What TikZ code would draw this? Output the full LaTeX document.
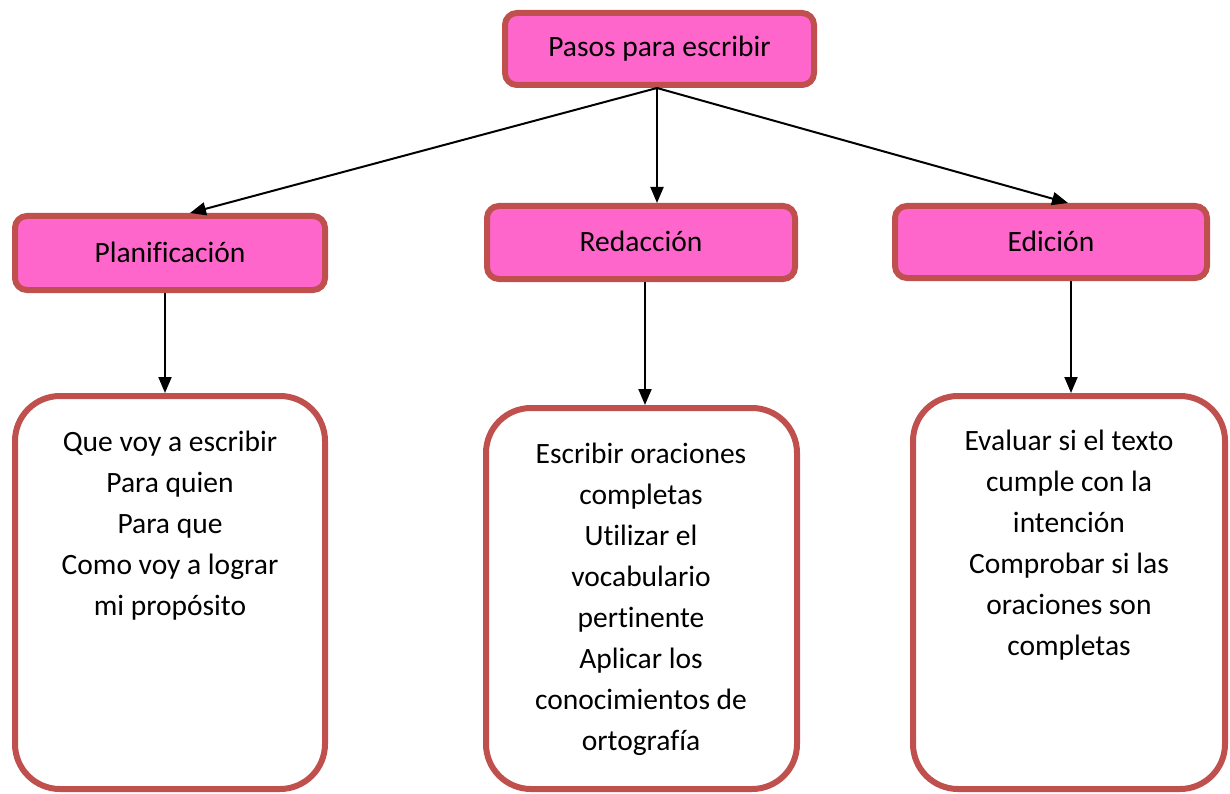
\documentclass[tikz,border=0pt]{standalone}
\usepackage{fontspec}
\setmainfont{Carlito}[Ligatures={NoCommon,NoRequired,NoContextual}]
\usetikzlibrary{arrows.meta}
\definecolor{boxpink}{HTML}{FF66CC}
\definecolor{boxred}{HTML}{C0504D}
\tikzset{
  headbox/.style={draw=boxred, fill=boxpink, line width=6pt, rounded corners=12pt,
    inner sep=0pt, font=\fontsize{29.5}{41}\selectfont},
  bodybox/.style={draw=boxred, fill=white, line width=6pt, rounded corners=45pt, inner sep=0pt},
  bodytext/.style={align=center, anchor=north, inner sep=0pt, font=\fontsize{29.5}{41}\selectfont},
  conn/.style={line width=2pt, -{Triangle[length=16pt,width=13pt]}}
}
\begin{document}
\begin{tikzpicture}[x=1pt,y=-1pt]
\useasboundingbox (0,0) rectangle (1230,794);
% header boxes
\node[headbox, minimum width=309pt, minimum height=72pt] (top) at (659.5,49) {Pasos para escribir};
\node[headbox, minimum width=310pt, minimum height=74pt] (plan) at (170,253) {\raisebox{2pt}{Planificación}};
\node[headbox, minimum width=308pt, minimum height=73pt] (reda) at (641,242.5) {\raisebox{2pt}{Redacción}};
\node[headbox, minimum width=312pt, minimum height=72pt] (edic) at (1051,242) {\raisebox{2pt}{Edición}};
% body boxes
\node[bodybox, minimum width=310pt, minimum height=393pt] (b1) at (170,592.5) {};
\node[bodybox, minimum width=311pt, minimum height=381pt] (b2) at (641.5,598.5) {};
\node[bodybox, minimum width=312pt, minimum height=393pt] (b3) at (1069,592.5) {};
% body texts
\node[bodytext] (t1) at (170,431) {Que voy a escribir\\Para quien\\Para que\\Como voy a lograr\\mi propósito};
\node[bodytext] (t2) at (641,443) {Escribir oraciones\\completas\\Utilizar el\\vocabulario\\pertinente\\Aplicar los\\conocimientos de\\ortografía};
\node[bodytext] (t3) at (1069,430) {Evaluar si el texto\\cumple con la\\intención\\Comprobar si las\\oraciones son\\completas};
% connectors
\coordinate (src) at (top.south -| 657,0);
\draw[conn] (src) -- (plan.north -| 190,0);
\draw[conn] (src) -- (reda.north -| 657,0);
\draw[conn] (src) -- (edic.north -| 1068,0);
\draw[conn] (plan.south -| 165,0) -- (b1.north -| 165,0);
\draw[conn] (reda.south -| 645,0) -- (b2.north -| 645,0);
\draw[conn] (edic.south -| 1071,0) -- (b3.north -| 1071,0);
\end{tikzpicture}
\end{document}
